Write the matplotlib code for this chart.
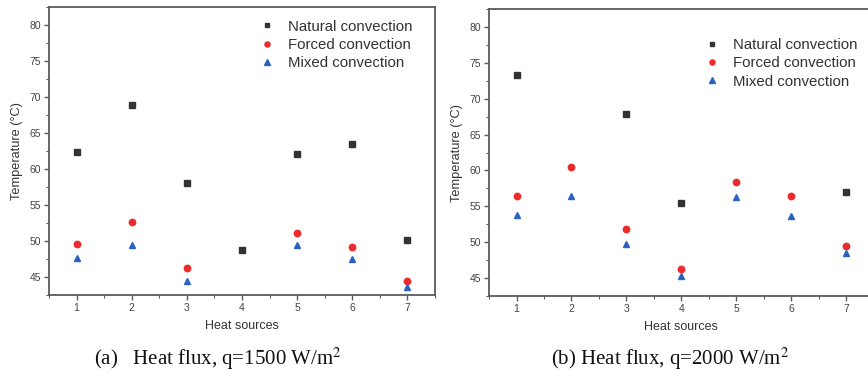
import numpy as np
import matplotlib as mpl
from matplotlib import pyplot as plt

# Data
heat_sources = [1, 2, 3, 4, 5, 6, 7]

# (a) q = 1500 W/m2
natural_a = [62.3, 68.9, 58.1, 48.8, 62.1, 63.5, 50.1]
forced_a = [49.6, 52.6, 46.2, np.nan, 51.1, 49.1, 44.4]
mixed_a = [47.6, 49.5, 44.5, np.nan, 49.5, 47.5, 43.6]

# (b) q = 2000 W/m2
natural_b = [73.3, np.nan, 67.9, 55.4, np.nan, np.nan, 57.0]
forced_b = [56.5, 60.5, 51.9, 46.3, 58.4, 56.5, 49.5]
mixed_b = [53.8, 56.4, 49.7, 45.3, 56.3, 53.6, 48.5]

captions = ["(a)   Heat flux, q=1500 W/m$^2$", "(b) Heat flux, q=2000 W/m$^2$"]
series_labels = ["Natural convection", "Forced convection", "Mixed convection"]

plt.rcParams['font.family'] = ['Liberation Sans', 'DejaVu Sans']
plt.rcParams['mathtext.fontset'] = 'stix'

fig = plt.figure(figsize=(8.68, 3.78), dpi=100)
ax_a = fig.add_axes([0.0565, 0.2196, 0.4447, 0.7619])
ax_b = fig.add_axes([0.5634, 0.2169, 0.4431, 0.7593])

spine_col = '#5a5a5a'
text_col = '#333333'


def style_panel(ax, natural, forced, mixed, legend_pos):
    ax.plot(heat_sources, natural, ls='none', marker='s', ms=4.2, color='#333333',
            label=series_labels[0])
    ax.plot(heat_sources, forced, ls='none', marker='o', ms=4.6, color='#ec2c2c',
            label=series_labels[1])
    ax.plot(heat_sources, mixed, ls='none', marker='^', ms=5.0, color='#2a62c2',
            label=series_labels[2])

    ax.set_xlim(0.5, 7.5)
    ax.set_ylim(42.5, 82.5)
    ax.set_xticks(heat_sources)
    ax.set_yticks(np.arange(45, 81, 5))
    ax.xaxis.set_minor_locator(mpl.ticker.MultipleLocator(0.5))
    ax.yaxis.set_minor_locator(mpl.ticker.MultipleLocator(2.5))
    ax.tick_params(which='major', direction='out', length=3.5, width=1.0,
                   color=spine_col, labelsize=7.5, labelcolor='#444444', pad=2)
    ax.tick_params(which='minor', direction='out', length=2, width=0.8, color=spine_col)
    for s in ax.spines.values():
        s.set_color(spine_col)
        s.set_linewidth(1.3)

    ax.set_xlabel("Heat sources", fontsize=9, color=text_col, labelpad=5)
    ax.set_ylabel("Temperature (°C)", fontsize=9.2, color=text_col, labelpad=5)

    ax.legend(loc='upper left', bbox_to_anchor=legend_pos, frameon=False,
              fontsize=10.8, labelcolor=text_col, handletextpad=0.8,
              labelspacing=0.29, borderpad=0, handlelength=1.2, markerscale=0.8)


style_panel(ax_a, natural_a, forced_a, mixed_a, (0.523, 0.982))
style_panel(ax_b, natural_b, forced_b, mixed_b, (0.536, 0.925))

fig.text(0.251, 0.05, captions[0], fontsize=15, family='Liberation Serif',
         ha='center', va='center', color='#111111')
fig.text(0.772, 0.05, captions[1], fontsize=15, family='Liberation Serif',
         ha='center', va='center', color='#111111')

fig.savefig('out.png', dpi=100)
plt.close(fig)
